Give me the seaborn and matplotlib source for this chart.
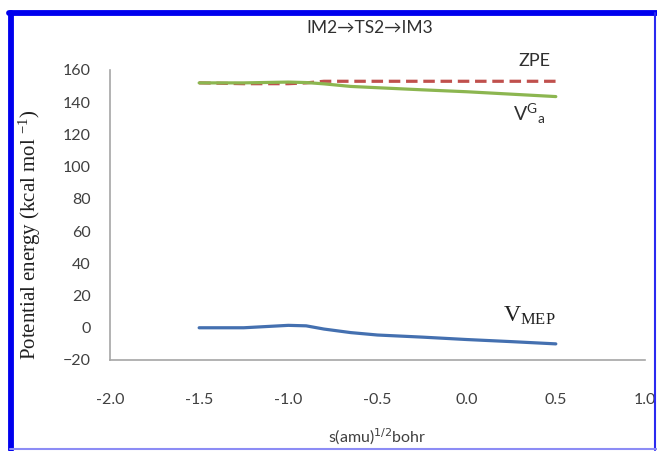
import matplotlib
matplotlib.use("Agg")
import matplotlib.pyplot as plt
import seaborn as sns
import pandas as pd
from matplotlib.lines import Line2D

# Reaction coordinate s (amu^1/2 bohr)
s = [-1.5, -1.25, -1.0, -0.9, -0.8, -0.65, -0.5, -0.25, 0.0, 0.25, 0.5]
# Energies in kcal/mol
v_mep = [0.0, 0.0, 1.5, 1.2, -0.8, -3.0, -4.5, -5.8, -7.3, -8.6, -10.0]
zpe = [152.0, 151.5, 151.5, 152.0, 153.0, 153.0, 153.0, 153.0, 153.0, 153.0, 153.0]
vga = [152.0, 152.0, 152.5, 152.2, 151.4, 149.8, 149.0, 147.7, 146.5, 145.0, 143.5]

df = pd.DataFrame({"s": s, "VMEP": v_mep, "ZPE": zpe, "VGa": vga})

sns.set_style("white")
plt.rcParams["font.family"] = ["Lato", "DejaVu Sans"]

fig = plt.figure(figsize=(6.57, 4.51), dpi=100)
ax = fig.add_axes([0.1674, 0.2018, 0.8143, 0.643])

sns.lineplot(data=df, x="s", y="ZPE", ax=ax, color="#C0504D", lw=2.3,
             zorder=2).lines[-1].set_dashes((3.6, 1.8))
sns.lineplot(data=df, x="s", y="VGa", ax=ax, color="#8CB650", lw=2.3, zorder=3)
sns.lineplot(data=df, x="s", y="VMEP", ax=ax, color="#4470B0", lw=2.3, zorder=3)

ax.set_xlim(-2.0, 1.0)
ax.set_ylim(-20, 160)
ax.set_xticks([-2.0, -1.5, -1.0, -0.5, 0.0, 0.5, 1.0])
ax.set_xticklabels(["-2.0", "-1.5", "-1.0", "-0.5", "0.0", "0.5", "1.0"])
ax.set_yticks(range(-20, 161, 20))
ax.tick_params(axis="x", length=0, pad=24, labelsize=11.5, colors="#404040")
ax.tick_params(axis="y", length=0, pad=14, labelsize=11.5, colors="#404040")
for side in ("top", "right"):
    ax.spines[side].set_visible(False)
for side in ("left", "bottom"):
    ax.spines[side].set_color("#A6A6A6")
    ax.spines[side].set_linewidth(1.2)

ax.set_xlabel("s(amu)$^{1/2}$bohr", fontsize=11.5, color="#404040", labelpad=14)
ax.set_ylabel("Potential energy (kcal mol $\\mathregular{^{-1}}$)", fontsize=15,
              family="Liberation Serif", color="#202020")
ax.yaxis.set_label_coords(-0.126, 0.43)

fig.text(0.563, 0.937, "IM2\u2192TS2\u2192IM3", ha="center", va="center",
         fontsize=12.5, color="#303030")

ax.text(0.29, 165.5, "ZPE", ha="left", va="center", fontsize=13,
        color="#303030")
ax.text(0.26, 133, "V$\\mathregular{^{G}}$$\\mathregular{_{a}}$", ha="left",
        va="center", fontsize=14, color="#303030")
ax.text(0.205, 7.5, "V$\\mathregular{_{MEP}}$", ha="left", va="center",
        fontsize=17, family="Liberation Serif", color="#202020")

# Blue frame round the figure
W, H = 657, 451
def fx(px):
    return px / W
def fy(py):
    return 1 - py / H
fig.add_artist(Line2D([fx(10.5), fx(10.5)], [fy(13), fy(450)], color="#0000EE", lw=4.2))
fig.add_artist(Line2D([fx(8.5), fx(657)], [fy(13), fy(13)], color="#0000EE", lw=4.2))
fig.add_artist(Line2D([fx(655), fx(655)], [fy(13), fy(450)], color="#2A2AF0", lw=1.5))
fig.add_artist(Line2D([fx(10), fx(657)], [fy(449), fy(449)], color="#8C8CF5", lw=1.5))

fig.savefig("out.png", dpi=100)
